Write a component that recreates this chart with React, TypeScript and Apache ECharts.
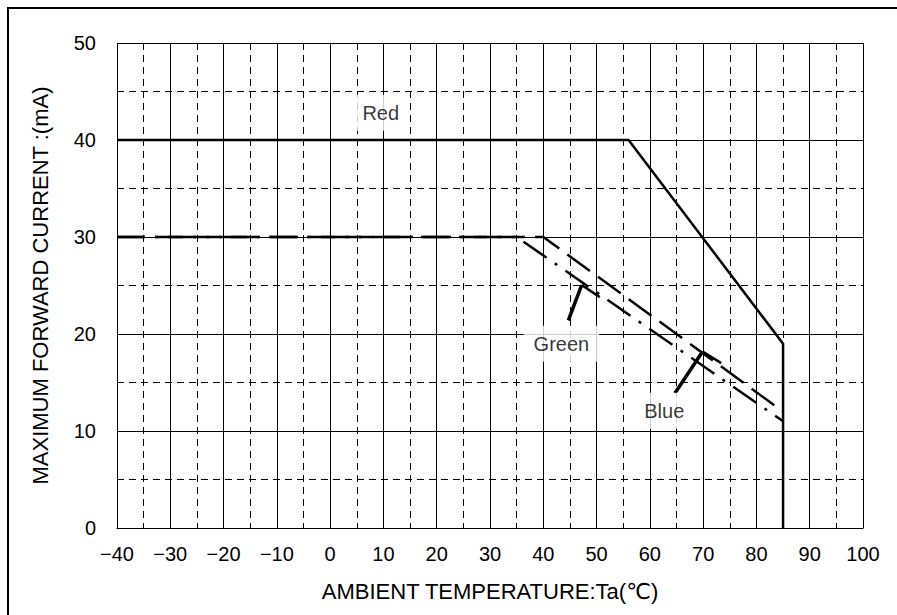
import React, { useEffect, useRef } from "react";
import * as echarts from "echarts";

// Axis ranges / ticks
const xMin = -40;
const xMax = 100;
const xStep = 10;
const yMin = 0;
const yMax = 50;
const yStep = 10;

// Derating curves: [Ta (°C), max forward current (mA)]
const redCurve = [
  [-40, 40],
  [56, 40],
  [85, 19],
  [85, 0],
];
const blueCurve = [
  [-40, 30],
  [40, 30],
  [85, 12],
];
const greenCurve = [
  [-40, 30],
  [35, 30],
  [85, 11],
];

// Leader lines for the labels
const greenLeg = [
  [44.7, 21.4],
  [47.2, 25.05],
];
const greenHook = [
  [47.2, 25.05],
  [50.6, 23.8],
];
const blueLeg = [
  [64.7, 13.9],
  [69.9, 18.2],
];
const blueHook = [
  [69.9, 18.2],
  [73.4, 17.0],
];

// Curve labels
const labelNames = ["Red", "Green", "Blue"];
const labelPositions = [
  [9.5, 42.8],
  [43.4, 19.0],
  [62.7, 12.1],
];

const xTitle = "AMBIENT TEMPERATURE:Ta(℃)";
const yTitle = "MAXIMUM FORWARD CURRENT :(mA)";

const FONT = "'Liberation Sans', 'DejaVu Sans', 'Noto Sans CJK JP', sans-serif";

export default function App() {
  const ref = useRef<HTMLDivElement>(null);

  useEffect(() => {
    if (!ref.current) return;
    const chart = echarts.init(ref.current, null, { renderer: "svg" });

    const lineSeries = (data: number[][], width: number, type: any) => ({
      type: "line",
      data,
      symbol: "none",
      silent: true,
      z: 5,
      lineStyle: { color: "#000", width, type, cap: "butt", join: "miter" },
    });

    chart.setOption({
      animation: false,
      backgroundColor: "#fff",
      textStyle: { fontFamily: FONT, color: "#000" },
      graphic: [
        {
          type: "rect",
          shape: { x: 8, y: 8, width: 900, height: 620 },
          style: { fill: "none", stroke: "#000", lineWidth: 2 },
          silent: true,
          z: 100,
        },
      ],
      grid: { left: 117, right: 34, top: 43, bottom: 87, containLabel: false },
      xAxis: {
        type: "value",
        min: xMin,
        max: xMax,
        interval: xStep,
        name: xTitle,
        nameLocation: "middle",
        nameGap: 52,
        nameTextStyle: { fontSize: 22, color: "#000", fontFamily: FONT },
        axisLine: { show: true, lineStyle: { color: "#000", width: 1 } },
        axisTick: { show: false },
        axisLabel: {
          color: "#000",
          fontSize: 20,
          margin: 16,
          fontFamily: FONT,
          formatter: (v: number) => (v < 0 ? "\u2212" + Math.abs(v) : String(v)),
        },
        splitLine: { show: true, lineStyle: { color: "#000", width: 1 } },
        minorTick: { show: false, splitNumber: 2 },
        minorSplitLine: { show: true, lineStyle: { color: "#000", width: 1, type: [7, 5] } },
      },
      yAxis: {
        type: "value",
        min: yMin,
        max: yMax,
        interval: yStep,
        name: yTitle,
        nameLocation: "middle",
        nameGap: 66,
        nameRotate: 90,
        nameTextStyle: { fontSize: 22, color: "#000", fontFamily: FONT },
        axisLine: { show: true, lineStyle: { color: "#000", width: 1 } },
        axisTick: { show: false },
        axisLabel: { color: "#000", fontSize: 20, margin: 21, fontFamily: FONT },
        splitLine: { show: true, lineStyle: { color: "#000", width: 1 } },
        minorTick: { show: false, splitNumber: 2 },
        minorSplitLine: { show: true, lineStyle: { color: "#000", width: 1, type: [7, 5] } },
      },
      series: [
        lineSeries(redCurve, 2.5, "solid"),
        lineSeries(blueCurve, 2.5, [28, 10]),
        lineSeries(greenCurve, 2.5, [28, 10, 3, 10]),
        lineSeries(greenLeg, 3.5, "solid"),
        lineSeries(greenHook, 2.5, "solid"),
        lineSeries(blueLeg, 3.5, "solid"),
        lineSeries(blueHook, 2.5, "solid"),
        {
          type: "scatter",
          symbolSize: 0,
          silent: true,
          z: 10,
          data: labelPositions.map((p, i) => ({ value: p, name: labelNames[i] })),
          label: {
            show: true,
            position: "inside",
            formatter: (p: any) => p.name,
            fontSize: 20,
            fontFamily: FONT,
            color: "#000",
            backgroundColor: "#fff",
            padding: [8, 10],
          },
        },
      ],
    });

    return () => chart.dispose();
  }, []);

  return (
    <div
      ref={ref}
      style={{ position: "fixed", left: 0, top: 0, width: 897, height: 615, background: "#fff" }}
    />
  );
}
